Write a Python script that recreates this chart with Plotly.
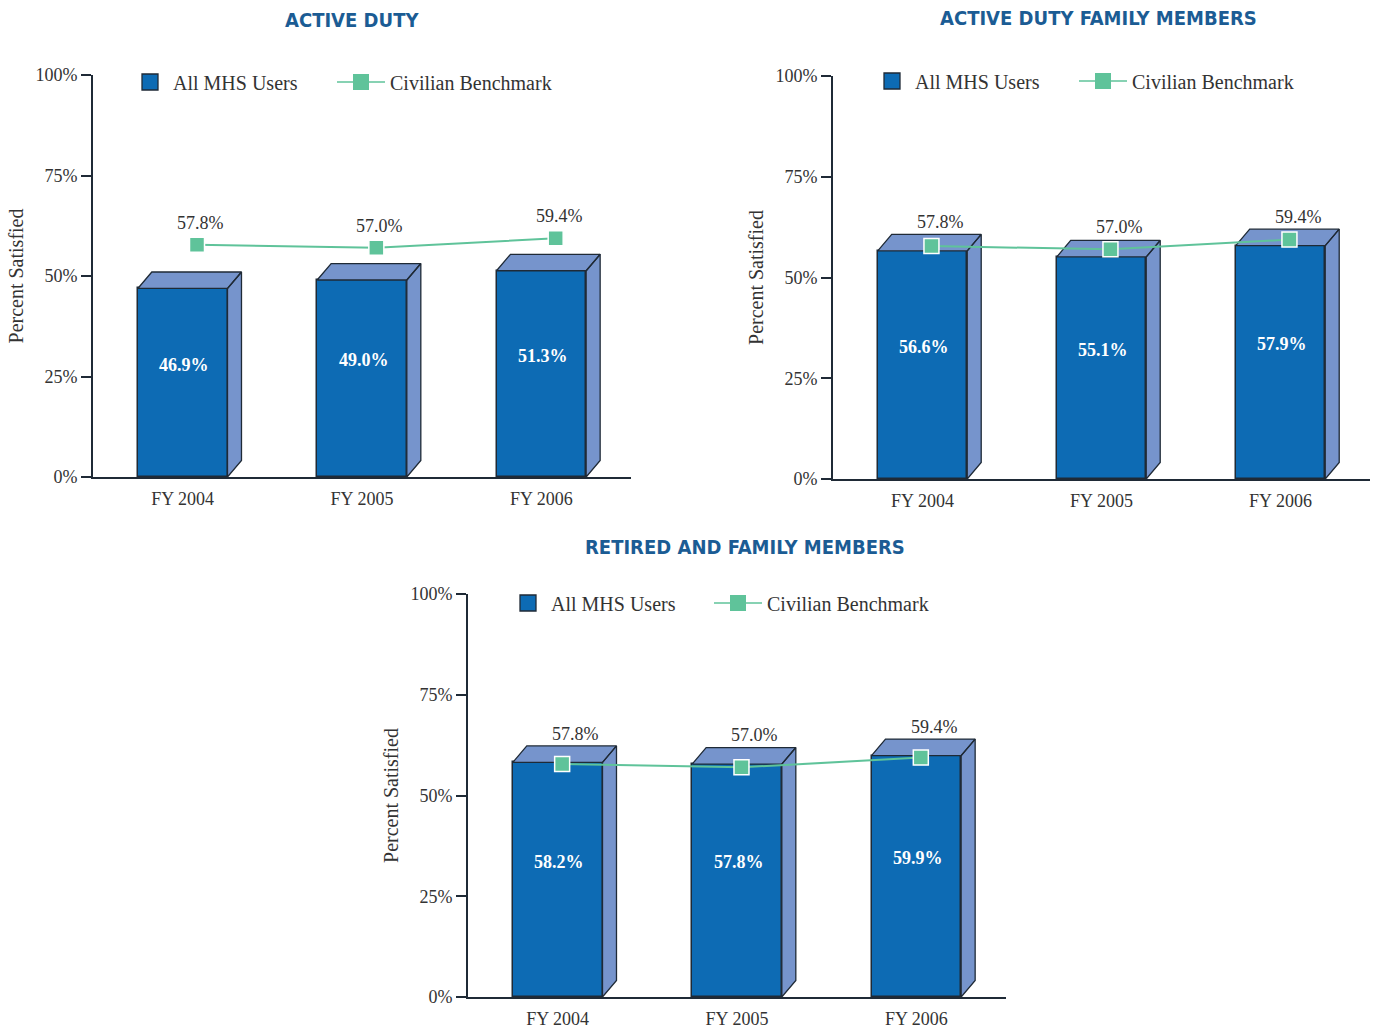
import plotly.graph_objects as go

# ---- data -------------------------------------------------------------
years = ["FY 2004", "FY 2005", "FY 2006"]
panel_titles = ["ACTIVE DUTY", "ACTIVE DUTY FAMILY MEMBERS", "RETIRED AND FAMILY MEMBERS"]
mhs_active_duty = [46.9, 49.0, 51.3]
mhs_ad_family = [56.6, 55.1, 57.9]
mhs_retired_family = [58.2, 57.8, 59.9]
civilian_benchmark = [57.8, 57.0, 59.4]
y_tick_vals = [0, 25, 50, 75, 100]
y_tick_labels = ["0%", "25%", "50%", "75%", "100%"]

# ---- styling ----------------------------------------------------------
W, H = 1374, 1030
FRONT = "#0d6bb4"
FACE = "#7694cc"
EDGE = "#1f2a36"
GREEN = "#5fc39a"
TEXT = "#333333"
TITLE_BLUE = "#1b5c94"
SERIF = "Liberation Serif, Times New Roman, serif"
NARROW = "DejaVu Sans Condensed, Arial Narrow, sans-serif"

BAR_W = 0.5     # bar width in category units
DX = 0.078      # depth offset (x units)
DY = 4.1        # depth offset (percentage points)
SQ_ITEM_W = 36  # legend symbol width, bar entry
LN_ITEM_W = 48  # legend symbol width, line entry


def fx(p):
    return p / W


def fy(p):
    return 1 - p / H


panels = [
    dict(title=panel_titles[0], mhs=mhs_active_duty, xdom=(93, 631), ydom=(477, 75),
         title_xy=(352, 20), legend_y=82, legend_x=(150, 361), bench_dx=0.08),
    dict(title=panel_titles[1], mhs=mhs_ad_family, xdom=(833, 1370), ydom=(479, 76),
         title_xy=(1098, 18), legend_y=81, legend_x=(892, 1103), bench_dx=0.05),
    dict(title=panel_titles[2], mhs=mhs_retired_family, xdom=(468, 1006), ydom=(997, 594),
         title_xy=(745, 547), legend_y=603, legend_x=(528, 738), bench_dx=0.025),
]

fig = go.Figure()
annotations = []
layout_axes = {}
xs = list(range(len(years)))


def legend_box(center_x, center_y, item_w):
    return dict(
        orientation="h", x=fx(center_x - item_w / 2 - 5), y=fy(center_y),
        xanchor="left", yanchor="middle", itemwidth=item_w,
        font=dict(family=SERIF, size=20, color=TEXT), bgcolor="rgba(0,0,0,0)",
    )


for i, p in enumerate(panels):
    n = "" if i == 0 else str(i + 1)
    xa, ya = "x" + n, "y" + n
    leg_a = "legend" + ("" if i == 0 else str(2 * i + 1))
    leg_b = "legend" + str(2 * i + 2)
    vals = p["mhs"]

    # front faces of the bars
    fig.add_trace(go.Bar(
        x=xs, y=vals, width=BAR_W, xaxis=xa, yaxis=ya,
        marker=dict(color=FRONT, line=dict(color=EDGE, width=1.5)),
        showlegend=False, hoverinfo="skip",
    ))

    # top and side faces giving the bars depth
    px_, py_ = [], []
    for c, v in zip(xs, vals):
        l, r = c - BAR_W / 2, c + BAR_W / 2
        px_ += [r, r + DX, r + DX, r, r, None]
        py_ += [0, DY, v + DY, v, 0, None]
        px_ += [l, l + DX, r + DX, r, l, None]
        py_ += [v, v + DY, v + DY, v, v, None]
    fig.add_trace(go.Scatter(
        x=px_, y=py_, xaxis=xa, yaxis=ya, mode="lines", fill="toself",
        fillcolor=FACE, line=dict(color=EDGE, width=1.3),
        showlegend=False, hoverinfo="skip",
    ))

    # civilian benchmark line
    bx = [c + p["bench_dx"] for c in xs]
    fig.add_trace(go.Scatter(
        x=bx, y=civilian_benchmark, xaxis=xa, yaxis=ya, mode="lines+markers",
        line=dict(color=GREEN, width=2),
        marker=dict(symbol="square", size=15, color=GREEN, line=dict(color="white", width=1.5)),
        showlegend=False, hoverinfo="skip",
    ))

    # legend entries, one legend box each
    fig.add_trace(go.Scatter(
        x=[None], y=[None], xaxis=xa, yaxis=ya, mode="markers", name="All MHS Users",
        marker=dict(symbol="square", size=18, color=FRONT, line=dict(color=EDGE, width=1.3)),
        legend=leg_a,
    ))
    fig.add_trace(go.Scatter(
        x=[None], y=[None], xaxis=xa, yaxis=ya, mode="lines+markers", name="Civilian Benchmark",
        line=dict(color=GREEN, width=1.5),
        marker=dict(symbol="square", size=17, color=GREEN),
        legend=leg_b,
    ))
    layout_axes[leg_a] = legend_box(p["legend_x"][0], p["legend_y"], SQ_ITEM_W)
    layout_axes[leg_b] = legend_box(p["legend_x"][1], p["legend_y"], LN_ITEM_W)

    # axes
    layout_axes["xaxis" + n] = dict(
        domain=[fx(p["xdom"][0]), fx(p["xdom"][1])], anchor=ya, range=[-0.5, 2.5],
        tickvals=xs, ticktext=years, showline=True, linecolor=EDGE, linewidth=2,
        ticks="outside", ticklen=4, tickcolor="rgba(0,0,0,0)", showgrid=False, zeroline=False,
        tickfont=dict(family=SERIF, size=18, color=TEXT), fixedrange=True, automargin=False,
    )
    layout_axes["yaxis" + n] = dict(
        domain=[fy(p["ydom"][0]), fy(p["ydom"][1])], anchor=xa, range=[0, 100],
        tickvals=y_tick_vals, ticktext=y_tick_labels, showline=True, linecolor=EDGE,
        linewidth=2, ticks="outside", ticklen=10, tickwidth=1.5, tickcolor=EDGE,
        showgrid=False, zeroline=False,
        tickfont=dict(family=SERIF, size=18, color=TEXT),
        title=dict(text="Percent Satisfied", font=dict(family=SERIF, size=20, color=TEXT), standoff=6),
        fixedrange=True, automargin=False,
    )

    # panel title
    tx, ty = p["title_xy"]
    annotations.append(dict(
        text=f"<b>{p['title']}</b>", x=fx(tx), y=fy(ty), xref="paper", yref="paper",
        showarrow=False, xanchor="center", yanchor="middle",
        font=dict(family=NARROW, size=20, color=TITLE_BLUE),
    ))

    # values inside the bars
    for c, v in zip(xs, vals):
        annotations.append(dict(
            text=f"<b>{v:.1f}%</b>", x=c + 0.01, y=v / 2 + 4.5, xref=xa, yref=ya,
            showarrow=False, font=dict(family=SERIF, size=18, color="white"),
        ))

    # benchmark values
    for c, b, v in zip(xs, civilian_benchmark, vals):
        annotations.append(dict(
            text=f"{b:.1f}%", x=c + 0.1, y=max(b + 5.5, v + DY + 3), xref=xa, yref=ya,
            showarrow=False, yanchor="middle", font=dict(family=SERIF, size=18, color=TEXT),
        ))

fig.update_layout(
    width=W, height=H, margin=dict(l=0, r=0, t=0, b=0, autoexpand=False),
    paper_bgcolor="white", plot_bgcolor="white",
    annotations=annotations, bargap=0,
    **layout_axes,
)

fig.write_html("out.html")
